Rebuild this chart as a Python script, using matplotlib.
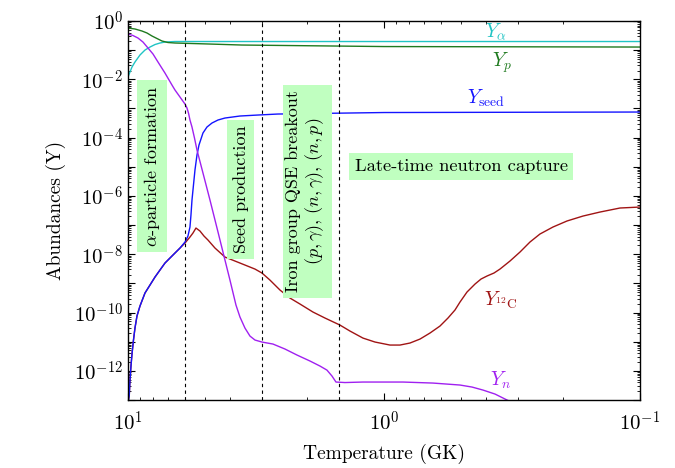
import numpy as np
import matplotlib
matplotlib.use("Agg")
import matplotlib.pyplot as plt
from matplotlib.ticker import FixedLocator, FixedFormatter, LogLocator, NullFormatter

plt.rcParams["font.family"] = "serif"
plt.rcParams["font.serif"] = ["cmr10"]
plt.rcParams["mathtext.fontset"] = "cm"
plt.rcParams["axes.formatter.use_mathtext"] = True
plt.rcParams["axes.unicode_minus"] = False

# temperature (GK) and abundances
T_alpha = [10, 9.822, 9.646, 9.390, 8.977, 8.582, 8.204, 7.843, 7.499, 7.169, 6.553, 0.1]
Y_alpha = [0.0120, 0.0178, 0.0264, 0.0392, 0.0682, 0.101, 0.128, 0.156, 0.176,
           0.190, 0.198, 0.198]

T_p = [10, 9.390, 8.818, 8.429, 8.058, 7.703, 7.365, 6.978, 6.553, 4.870, 3.587, 1.0, 0.1]
Y_p = [0.575, 0.532, 0.454, 0.388, 0.306, 0.251, 0.206, 0.183, 0.176, 0.163, 0.150,
       0.133, 0.128]

T_n = [10, 9.560, 9.141, 8.738, 8.353, 7.985, 7.634, 7.169, 6.732, 6.553, 6.264,
       5.989, 5.882, 5.803, 5.726, 5.623, 5.498, 5.376, 5.094, 4.783, 4.450, 4.180,
       3.996, 3.786, 3.652, 3.492, 3.338, 3.191, 2.997, 2.715, 2.436, 2.186, 1.945,
       1.778, 1.670, 1.596, 1.540, 1.420, 1.208, 0.843, 0.6436, 0.5047, 0.4529,
       0.4103, 0.3684, 0.3307, 0.2942]
Y_n = [0.358, 0.318, 0.261, 0.190, 0.1186, 0.0738, 0.0392, 0.0164, 6.37e-3, 4.30e-3,
       2.47e-3, 1.42e-3, 1.04e-3, 6.98e-4, 4.02e-4, 2.31e-4, 9.69e-5, 3.76e-5,
       6.11e-6, 7.23e-7, 5.78e-8, 6.33e-9, 1.30e-9, 1.81e-10, 7.01e-11, 2.94e-11,
       1.56e-11, 1.14e-11, 9.73e-12, 8.31e-12, 5.60e-12, 3.48e-12, 2.17e-12,
       1.46e-12, 1.06e-12, 6.63e-13, 4.13e-13, 3.97e-13, 4.13e-13, 4.13e-13,
       3.81e-13, 3.26e-13, 2.78e-13, 2.19e-13, 1.60e-13, 1.0e-13, 6.2e-14]

T_seed = [9.955, 9.884, 9.822, 9.734, 9.646, 9.517, 9.390, 9.223, 8.977, 8.582,
          8.204, 7.843, 7.499, 7.169, 6.854, 6.553, 6.264, 5.989, 5.830, 5.726,
          5.675, 5.623, 5.548, 5.474, 5.376, 5.280, 5.094, 4.914, 4.697, 4.450,
          4.180, 3.652, 3.106, 2.595, 1.0, 0.1]
Y_seed = [1.0e-13, 1.48e-13, 4.83e-13, 1.46e-12, 3.77e-12, 1.14e-11, 2.94e-11,
          7.59e-11, 1.67e-10, 4.67e-10, 8.78e-10, 1.65e-9, 2.87e-9, 4.99e-9,
          7.41e-9, 1.10e-8, 1.63e-8, 2.62e-8, 4.21e-8, 8.58e-8, 2.21e-7, 7.23e-7,
          2.37e-6, 7.74e-6, 2.53e-5, 5.57e-5, 1.44e-4, 2.31e-4, 3.17e-4, 4.02e-4,
          4.70e-4, 5.51e-4, 5.96e-4, 6.45e-4, 7.26e-4, 7.55e-4]

T_c12 = [9.955, 9.884, 9.822, 9.734, 9.646, 9.517, 9.390, 9.223, 8.977, 8.582,
         8.204, 7.843, 7.499, 7.169, 6.854, 6.553, 6.264, 5.989, 5.726, 5.573,
         5.425, 5.233, 5.048, 4.870, 4.572, 4.180, 3.652, 3.191, 2.997, 2.789,
         2.548, 2.329, 2.129, 1.894, 1.700, 1.486, 1.358, 1.208, 1.084, 0.9475,
         0.8660, 0.7916, 0.7234, 0.6612, 0.6043, 0.5623, 0.5280, 0.5047, 0.4739,
         0.4409, 0.4177, 0.3958, 0.3717, 0.3522, 0.3219, 0.2942, 0.2690, 0.2459,
         0.2187, 0.1928, 0.1670, 0.1433, 0.1197, 0.1]
Y_c12 = [1.0e-13, 1.48e-13, 4.83e-13, 1.46e-12, 3.77e-12, 1.14e-11, 2.94e-11,
         7.59e-11, 1.67e-10, 4.67e-10, 8.78e-10, 1.65e-9, 2.87e-9, 4.99e-9,
         7.41e-9, 1.10e-8, 1.63e-8, 2.42e-8, 3.89e-8, 5.34e-8, 7.92e-8, 6.25e-8,
         4.21e-8, 3.07e-8, 1.63e-8, 8.01e-9, 4.99e-9, 3.10e-9, 2.27e-9, 1.30e-9,
         5.91e-10, 3.14e-10, 1.96e-10, 1.04e-10, 6.48e-11, 3.72e-11, 2.32e-11,
         1.33e-11, 9.73e-12, 7.67e-12, 7.67e-12, 8.99e-12, 1.23e-11, 1.98e-11,
         3.44e-11, 6.48e-11, 1.22e-10, 2.29e-10, 5.05e-10, 9.50e-10, 1.41e-9,
         1.79e-9, 2.27e-9, 3.10e-9, 5.85e-9, 1.19e-8, 2.62e-8, 4.93e-8, 8.58e-8,
         1.38e-7, 2.04e-7, 2.80e-7, 3.85e-7, 4.16e-7]

T_stage = [6.0, 3.0, 1.5]

fig = plt.figure(figsize=(6.75, 4.68), dpi=100)
ax = fig.add_axes([0.1896, 0.1453, 0.7585, 0.8098])

ax.plot(T_alpha, Y_alpha, color="#20c4c4", lw=1.0)
ax.plot(T_p, Y_p, color="#1f7a1f", lw=1.0)
ax.plot(T_c12, Y_c12, color="#a01414", lw=1.0)
ax.plot(T_seed, Y_seed, color="#1414ff", lw=1.0)
ax.plot(T_n, Y_n, color="#a020f0", lw=1.0)

for t in T_stage:
    ax.axvline(t, color="k", ls=(0, (3, 3)), lw=0.8)

ax.set_xscale("log")
ax.set_yscale("log")
ax.set_xlim(10, 0.1)
ax.set_ylim(1e-13, 1)

exps = np.arange(-13, 1)
ax.yaxis.set_major_locator(FixedLocator(10.0 ** exps))
ax.yaxis.set_major_formatter(FixedFormatter(
    [r"$10^{%d}$" % e if e % 2 == 0 else "" for e in exps]))
ax.yaxis.set_minor_locator(LogLocator(base=10, subs=np.arange(2, 10), numticks=30))
ax.yaxis.set_minor_formatter(NullFormatter())
ax.xaxis.set_major_locator(FixedLocator([10, 1, 0.1]))
ax.xaxis.set_major_formatter(FixedFormatter([r"$10^{1}$", r"$10^{0}$", r"$10^{-1}$"]))
ax.xaxis.set_minor_locator(LogLocator(base=10, subs=np.arange(2, 10), numticks=10))
ax.xaxis.set_minor_formatter(NullFormatter())

ax.tick_params(which="both", direction="in", top=True, right=True, labelsize=15)
ax.tick_params(which="major", length=5, width=0.8)
ax.tick_params(which="minor", length=2.5, width=0.6)
ax.tick_params(axis="x", pad=8)
for s in ax.spines.values():
    s.set_linewidth(1.0)

ax.set_xlabel("Temperature (GK)", fontsize=14, labelpad=6)
ax.set_ylabel("Abundances (Y)", fontsize=14, labelpad=6)

box = dict(boxstyle="square,pad=0.3", fc="#c0ffc0", ec="none")
ax.text(0.047, 0.617, r"$\alpha$-particle formation", rotation=90, fontsize=13,
        ha="center", va="center", transform=ax.transAxes, bbox=box)
ax.text(0.22, 0.555, "Seed production", rotation=90, fontsize=13,
        ha="center", va="center", transform=ax.transAxes, bbox=box)
ax.text(0.347, 0.551, "Iron group QSE breakout\n$(p,\\gamma)$, $(n,\\gamma)$, $(n,p)$",
        rotation=90, fontsize=13, ha="center", va="center", multialignment="center",
        transform=ax.transAxes, bbox=box)
ax.text(0.651, 0.616, "Late-time neutron capture", fontsize=13.3,
        ha="center", va="center", transform=ax.transAxes, bbox=box)

ax.text(0.719, 0.971, r"$Y_\alpha$", color="#20c4c4", fontsize=14,
        ha="center", va="center", transform=ax.transAxes)
ax.text(0.730, 0.890, r"$Y_p$", color="#1f7a1f", fontsize=14,
        ha="center", va="center", transform=ax.transAxes)
ax.text(0.699, 0.797, r"$Y_{\rm seed}$", color="#1414ff", fontsize=14,
        ha="center", va="center", transform=ax.transAxes)
ax.text(0.727, 0.264, r"$Y_{^{12}{\rm C}}$", color="#a01414", fontsize=14,
        ha="center", va="center", transform=ax.transAxes)
ax.text(0.727, 0.053, r"$Y_n$", color="#a020f0", fontsize=14,
        ha="center", va="center", transform=ax.transAxes)

fig.savefig("out.png", dpi=100)
